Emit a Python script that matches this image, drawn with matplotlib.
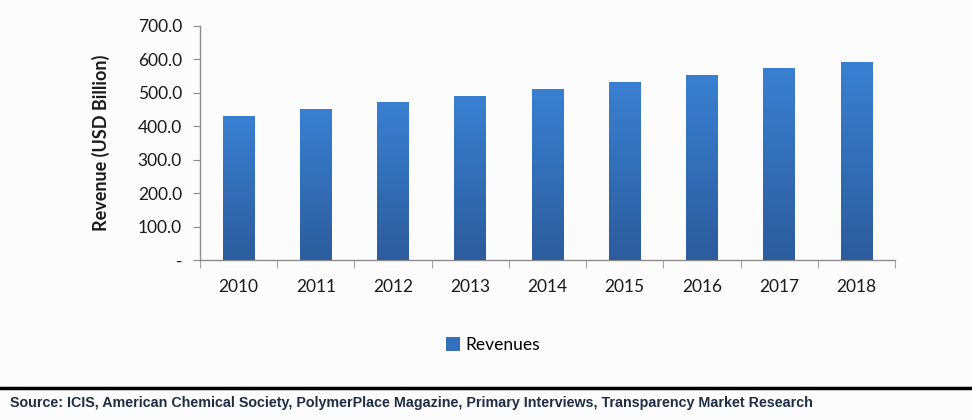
import matplotlib
matplotlib.use("Agg")
import matplotlib.pyplot as plt
import numpy as np
from matplotlib.colors import LinearSegmentedColormap
from matplotlib.patches import Rectangle
from matplotlib.lines import Line2D

years = ["2010", "2011", "2012", "2013", "2014", "2015", "2016", "2017", "2018"]
revenues = [431, 452, 473, 492, 511, 533, 554, 575, 593]
yticks = [0, 100, 200, 300, 400, 500, 600, 700]
ytick_labels = ["-", "100.0", "200.0", "300.0", "400.0", "500.0", "600.0", "700.0"]
series_name = "Revenues"
source = "Source: ICIS, American Chemical Society, PolymerPlace Magazine, Primary Interviews, Transparency Market Research"

plt.rcParams['font.family'] = ['Lato', 'DejaVu Sans']

fig = plt.figure(figsize=(9.72, 4.2), dpi=100)
fig.patch.set_facecolor("#FCFCFC")
ax = fig.add_axes([200/972, 1-260/420, 695/972, 234/420])
ax.set_facecolor("#FCFCFC")

x = np.arange(len(years))
bars = ax.bar(x, revenues, width=0.41, color="#3570BD", zorder=2)

cmap = LinearSegmentedColormap.from_list("g", ["#2C5C9C", "#3A80D2"])
grad = np.linspace(0, 1, 256).reshape(-1, 1)
for b in bars:
    x0, w, h = b.get_x(), b.get_width(), b.get_height()
    im = ax.imshow(grad, extent=[x0, x0 + w, 0, h], origin="lower", cmap=cmap,
                   aspect="auto", zorder=3)
    im.set_clip_path(b)
    b.set_facecolor("none")

ax.set_xlim(-0.5, len(years) - 0.5)
ax.set_ylim(0, 700)

for s in ["top", "right"]:
    ax.spines[s].set_visible(False)
for s in ["left", "bottom"]:
    ax.spines[s].set_color("#8C8C8C")
    ax.spines[s].set_linewidth(1.0)

ax.set_yticks(yticks)
ax.set_yticklabels(ytick_labels, fontsize=12.5, color="#1a1a1a")
ax.tick_params(axis="y", length=5, color="#8C8C8C", pad=8)

ax.set_xticks(x)
ax.set_xticklabels(years, fontsize=12.5, color="#1a1a1a")
ax.tick_params(axis="x", length=0, pad=14)
ax.set_xticks(np.arange(len(years) + 1) - 0.5, minor=True)
ax.tick_params(axis="x", which="minor", length=6, color="#8C8C8C")

ax.set_ylabel("Revenue (USD Billion)", fontsize=13, fontweight="bold",
              color="#1a1a1a", labelpad=20)

handle = Rectangle((0, 0), 1, 1, facecolor="#3570BD", edgecolor="none")
fig.legend([handle], [series_name], loc="center", bbox_to_anchor=(493/972, 1-345/420),
           frameon=False, fontsize=12.5, handlelength=0.8, handleheight=0.8,
           handletextpad=0.3)

fig.add_artist(Line2D([0, 1], [1-388/420, 1-388/420], color="black", linewidth=2.5,
                      transform=fig.transFigure))
fig.text(10/972, 1-403/420, source, fontsize=10.3, fontweight="bold",
         color="#1F2D45", va="center", ha="left",
         family=["Liberation Sans Narrow", "Liberation Sans", "DejaVu Sans"])

fig.savefig("out.png", dpi=100, facecolor=fig.get_facecolor())
